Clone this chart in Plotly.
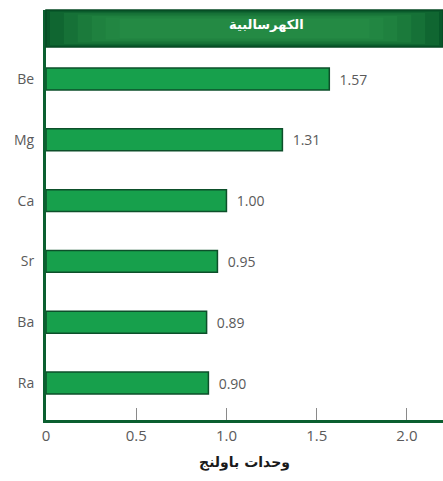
import plotly.graph_objects as go

# Electronegativity (Pauling units) of the alkaline earth metals
elements = ["Be", "Mg", "Ca", "Sr", "Ba", "Ra"]
electronegativity = [1.57, 1.31, 1.00, 0.95, 0.89, 0.90]
x_ticks = [0, 0.5, 1.0, 1.5, 2.0]
x_tick_labels = ["0", "0.5", "1.0", "1.5", "2.0"]

chart_title = "الكهرسالبية"
x_title = "وحدات باولنج"

DARK_GREEN = "#0b5f30"
BAR_GREEN = "#17a04c"
GRAY = "#5a5a5a"

fig = go.Figure()

fig.add_trace(go.Bar(
    x=electronegativity,
    y=elements,
    orientation="h",
    width=0.36,
    marker=dict(color=BAR_GREEN, line=dict(color="#0d4f2a", width=1.5)),
    text=[f"{v:.2f}" for v in electronegativity],
    texttemplate="  %{text}",
    textposition="outside",
    cliponaxis=False,
    textfont=dict(family="Open Sans", size=14, color=GRAY),
    hoverinfo="skip",
))

# Title banner across the top of the plot: dark frame with a soft lighter centre
BANNER_Y0 = 0.9098
fig.add_shape(type="rect", xref="paper", yref="paper",
              x0=0, x1=1, y0=BANNER_Y0, y1=1,
              fillcolor="#08582a", line=dict(color="#074a24", width=1.5),
              layer="above")
for i in range(6):
    fig.add_shape(type="rect", xref="paper", yref="paper",
                  x0=0.01 + i * 0.035, x1=0.99 - i * 0.035,
                  y0=BANNER_Y0 + 0.004 + i * 0.0035, y1=0.996 - i * 0.0035,
                  fillcolor="#2c9a4f", opacity=0.22, line=dict(width=0),
                  layer="above")
fig.add_annotation(x=0.555, y=(BANNER_Y0 + 1) / 2, xref="paper", yref="paper",
                   yanchor="middle", yshift=4,
                   text=f"<b>{chart_title}</b>", showarrow=False,
                   font=dict(family="DejaVu Sans", size=13, color="white"))

fig.update_layout(
    width=443, height=481,
    margin=dict(l=46, r=0, t=10, b=61),
    paper_bgcolor="white", plot_bgcolor="white",
    showlegend=False,
    xaxis=dict(
        range=[0, 2.2],
        tickvals=x_ticks, ticktext=x_tick_labels,
        ticks="inside", ticklen=12, tickwidth=1, tickcolor="#8a8a8a",
        showgrid=False, zeroline=False,
        showline=True, linecolor=DARK_GREEN, linewidth=3,
        tickfont=dict(family="Open Sans", size=15, color=GRAY),
        title=dict(text=f"<b>{x_title}</b>", standoff=14,
                   font=dict(family="DejaVu Sans", size=14, color="#1a1a1a")),
    ),
    yaxis=dict(
        categoryorder="array", categoryarray=elements,
        range=[5.608, -1.135],
        showgrid=False, zeroline=False,
        showline=True, linecolor=DARK_GREEN, linewidth=3,
        ticks="", ticklabelstandoff=6,
        tickfont=dict(family="Open Sans", size=14, color=GRAY),
    ),
)

fig.write_html("out.html")
